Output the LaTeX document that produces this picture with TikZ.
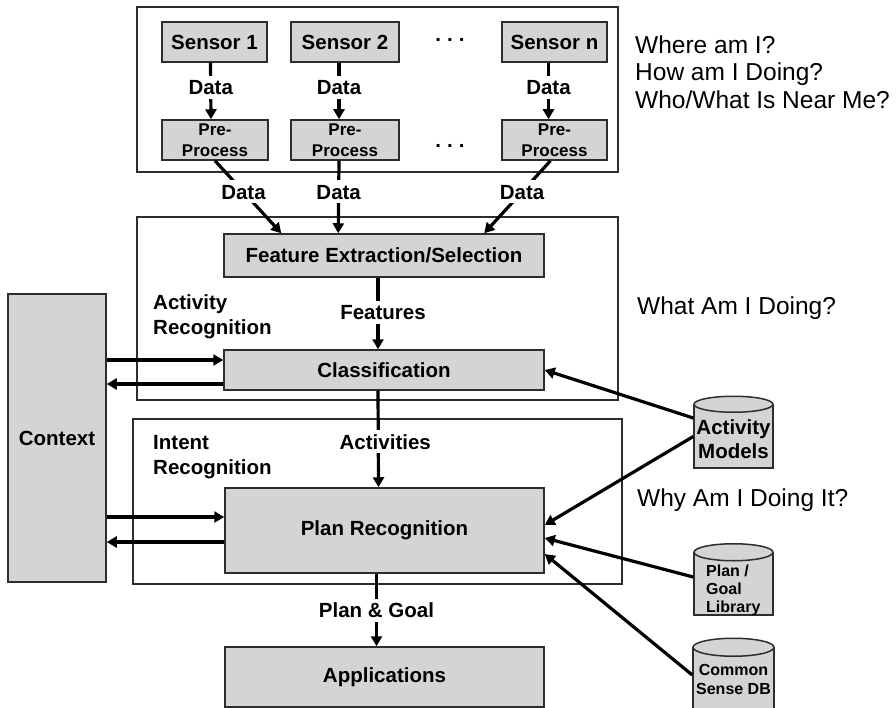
\documentclass[tikz,border=0pt]{standalone}
\usepackage{fontspec}
\setmainfont{Liberation Sans}
\usetikzlibrary{arrows.meta,calc}
\definecolor{boxfill}{RGB}{212,212,212}
\definecolor{edge}{RGB}{45,45,45}
\newcommand\bigfont{\fontsize{20.5}{25}\selectfont\bfseries}
\newcommand\prefont{\fontsize{17}{21}\selectfont\bfseries}
\newcommand\cylfont{\fontsize{16}{18}\selectfont\bfseries}
\newcommand\askfont{\fontsize{24.5}{28}\selectfont}
\begin{document}
\begin{tikzpicture}[x=1pt,y=-1pt,
  grp/.style={draw=edge,line width=1.5pt,fill=white,inner sep=0pt},
  blk/.style={draw=edge,line width=1.5pt,fill=boxfill,inner sep=0pt,font=\bigfont,align=center},
  cylbody/.style={draw=edge,line width=1.5pt,fill=boxfill,inner sep=0pt},
  cyltop/.style={draw=edge,line width=1.5pt,fill=boxfill},
  lab/.style={fill=white,font=\bigfont,inner xsep=1pt,inner ysep=4pt,text height=15pt,text depth=0pt},
  grplab/.style={font=\bigfont,align=left,anchor=north west,inner sep=0pt},
  ask/.style={font=\askfont,anchor=base west,inner sep=0pt},
  conn/.style={line width=3.2pt,draw=black,-{Triangle[length=10pt,width=11pt]}}]
\useasboundingbox (0,0) rectangle (896,708);

% container boxes
\node[grp,minimum width=481pt,minimum height=165pt] (sensing) at (377.5,89.5) {};
\node[grp,minimum width=481pt,minimum height=183pt] (actrec) at (377.5,308.5) {};
\node[grp,minimum width=489pt,minimum height=165pt] (intrec) at (377.5,501.5) {};

% sensors and pre-processing
\node[blk,minimum width=105pt,minimum height=40pt] (s1) at (214.5,42) {Sensor 1};
\node[blk,minimum width=108pt,minimum height=40pt] (s2) at (345,42) {Sensor 2};
\node[blk,minimum width=105pt,minimum height=40pt] (sn) at (554.5,42) {Sensor n};
\node[blk,font=\prefont,minimum width=106pt,minimum height=40pt] (p1) at (215,140) {Pre-\\Process};
\node[blk,font=\prefont,minimum width=108pt,minimum height=40pt] (p2) at (345,140) {Pre-\\Process};
\node[blk,font=\prefont,minimum width=105pt,minimum height=40pt] (pn) at (554.5,140) {Pre-\\Process};
\node[font=\bigfont,anchor=base,inner sep=0pt] (dotsa) at (450,42) {.\hspace{6pt}.\hspace{6pt}.};
\node[font=\bigfont,anchor=base,inner sep=0pt] (dotsb) at (450,148) {.\hspace{6pt}.\hspace{6pt}.};

% processing chain
\node[blk,minimum width=320pt,minimum height=43pt] (fe) at (384,255.5) {Feature Extraction/Selection};
\node[blk,minimum width=320pt,minimum height=40pt] (cls) at (384,370) {Classification};
\node[blk,minimum width=319pt,minimum height=85pt] (pr) at (384.5,530.5) {Plan Recognition};
\node[blk,minimum width=319pt,minimum height=60pt] (app) at (384.5,677) {Applications};
\node[blk,minimum width=98pt,minimum height=288pt] (ctx) at (57,438) {Context};

\node[grplab] (actlab) at (153,294) {Activity\\Recognition};
\node[grplab] (intlab) at (153,435) {Intent\\Recognition};

% knowledge stores
\node[cylbody,minimum width=79pt,minimum height=63pt] (am) at (733.5,436.5) {};
\draw[cyltop] (am.north) ellipse [x radius=39.5pt,y radius=8pt];
\node[font=\bigfont,align=center,inner sep=0pt] (amtext) at (733.5,439.5) {Activity\\[-1pt]Models};
\node[cylbody,minimum width=79pt,minimum height=62pt] (pg) at (733.5,584) {};
\draw[cyltop] (pg.north) ellipse [x radius=39.5pt,y radius=8.5pt];
\node[font=\cylfont,align=left,anchor=west,inner sep=0pt] (pgtext) at (706,590) {Plan /\\Goal\\Library};
\node[cylbody,minimum width=81pt,minimum height=64pt] (cs) at (733.5,680) {};
\draw[cyltop] (cs.north) ellipse [x radius=40.5pt,y radius=9pt];
\node[font=\cylfont,align=center,inner sep=0pt] (cstext) at (733.5,679.5) {Common\\[1pt]Sense DB};

% questions
\node[ask] (q1) at (635,53.5) {Where am I?};
\node[ask] (q2) at (635,81) {How am I Doing?};
\node[ask] (q3) at (635,108.5) {Who/What Is Near Me?};
\node[ask] (q4) at (637,315) {What Am I Doing?};
\node[ask] (q5) at (637,506.5) {Why Am I Doing It?};

% sensor data flow
\draw[conn] ([xshift=-4pt]s1.south) -- node[lab,pos=0.43]{Data} ([xshift=-4pt]p1.north);
\draw[conn] ([xshift=-6pt]s2.south) -- node[lab,pos=0.43]{Data} ([xshift=-6pt]p2.north);
\draw[conn] ([xshift=-6pt]sn.south) -- node[lab,pos=0.43]{Data} ([xshift=-6pt]pn.north);

\coordinate (fe1) at ($(fe.north west)+(58,0)$);
\coordinate (fe2) at ($(fe.north west)+(115,0)$);
\coordinate (fe3) at ($(fe.north west)+(261,0)$);
\draw[conn] (p1.south) -- node[lab,pos=0.43]{Data} (fe1);
\draw[conn] ([xshift=-6pt]p2.south) -- node[lab,pos=0.43]{Data} (fe2);
\draw[conn] ([xshift=-4pt]pn.south) -- node[lab,pos=0.43]{Data} (fe3);

\draw[conn] ([xshift=-6pt]fe.south) -- node[lab,pos=0.48,xshift=5pt]{Features} ([xshift=-6pt]cls.north);
\draw[conn] ([xshift=-6pt]cls.south) -- node[lab,pos=0.53,xshift=7pt]{Activities} ([xshift=-6pt]pr.north);
\draw[conn] ([xshift=-8pt]pr.south) -- node[lab,pos=0.5]{Plan \& Goal} ([xshift=-8pt]app.north);

% context exchange
\coordinate (ci1) at ([yshift=10pt]cls.west);
\coordinate (co1) at ([yshift=-14pt]cls.west);
\coordinate (ci2) at ([yshift=13.5pt]pr.west);
\coordinate (co2) at ([yshift=-11.5pt]pr.west);
\draw[conn] (ctx.east |- ci1) -- (ci1);
\draw[conn] (co1) -- (ctx.east |- co1);
\draw[conn] (ctx.east |- ci2) -- (ci2);
\draw[conn] (co2) -- (ctx.east |- co2);

% model inputs
\draw[conn] ([yshift=18.5pt]am.west) -- (cls.east);
\draw[conn] (am.west) -- ([yshift=5.5pt]pr.east);
\draw[conn] ([yshift=7pt]pg.west) -- ([yshift=-7.5pt]pr.east);
\draw[conn] ([yshift=5pt]cs.west) -- ([yshift=-23.5pt]pr.east);
\end{tikzpicture}
\end{document}
